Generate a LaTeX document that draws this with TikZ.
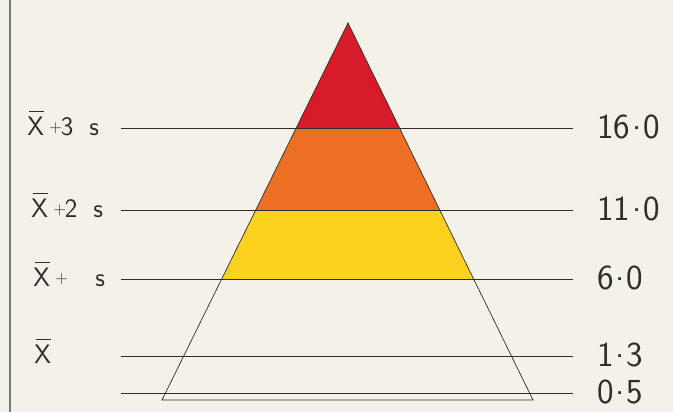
\documentclass[tikz,border=0pt]{standalone}
\usepackage{fontspec}
\usetikzlibrary{positioning,calc}
\definecolor{paper}{HTML}{F4F1E8}
\definecolor{tred}{HTML}{D81B2B}
\definecolor{torange}{HTML}{EC6F24}
\definecolor{tyellow}{HTML}{FCD21F}
\definecolor{tink}{HTML}{2E2E2E}
\definecolor{tgrey}{HTML}{7A7A78}
\newcommand{\meanx}{\leavevmode\rlap{\hspace{0.06em}\rule[0.88em]{0.55em}{0.05em}}X}
\newcommand{\smallplus}{\raisebox{0.12em}{\fontsize{12}{12}\selectfont +}}
\newcommand{\mdot}{\hspace{0.05em}\raisebox{0.27em}{.}\hspace{0.05em}}

\begin{document}
\begin{tikzpicture}[x=0.025cm, y=-0.025cm,
    level/.style={draw=tink, line width=0.5pt},
    lhs/.style={anchor=base west, inner sep=0pt, text=tink, font=\sffamily\fontsize{19}{19}\selectfont},
    rhs/.style={anchor=base west, inner sep=0pt, text=tink, font=\sffamily\fontsize{25}{25}\selectfont}
]
    \fill[paper] (0,0) rectangle (673,412);
    \useasboundingbox (0,0) rectangle (673,412);
    \draw[tgrey, line width=1.6pt] (10,0) -- (10,412);

    \coordinate (apex) at (348,23);
    \coordinate (bl) at (162,400);
    \coordinate (br) at (533,400);

    % coloured bands
    \begin{scope}
        \clip (apex) -- (bl) -- (br) -- cycle;
        \fill[tred] (150,0) rectangle (550,128);
        \fill[torange] (150,128) rectangle (550,210);
        \fill[tyellow] (150,210) rectangle (550,279);
    \end{scope}

    % levels and values
    \foreach \y/\n/\v in {128/a/16\mdot0, 210/b/11\mdot0, 279/c/6\mdot0, 356/d/1\mdot3, 393/e/0\mdot5} {
        \coordinate (l\n) at (121,\y);
        \coordinate (r\n) at (573,\y);
        \node[rhs] (v\n) at (597,\y+11) {\v};
        \draw[level] (l\n) -- (r\n);
    }

    \node[lhs] (sa) at (27,136) {\meanx\hspace{0.2em}\smallplus\hspace{-0.05em}3\hspace{0.6em}s};
    \node[lhs] (sb) at (31,218) {\meanx\hspace{0.2em}\smallplus\hspace{-0.05em}2\hspace{0.6em}s};
    \node[lhs] (sc) at (33,287) {\meanx\hspace{0.2em}\smallplus\hspace{-0.05em}\phantom{2}\hspace{0.6em}s};
    \node[lhs] (sd) at (34,364) {\meanx};

    \draw[level] (apex) -- (bl) -- (br) -- cycle;
\end{tikzpicture}
\end{document}
